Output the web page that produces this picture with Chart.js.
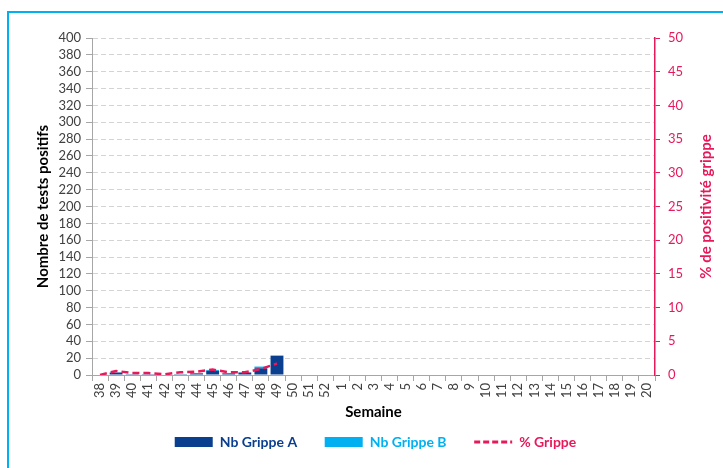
<!DOCTYPE html>
<html>
<head>
<meta charset="utf-8">
<script src="https://cdn.jsdelivr.net/npm/chart.js@4"></script>
<style>
  html, body { margin: 0; padding: 0; background: #fff; }
  #frame { position: absolute; left: 7px; top: 11px; width: 760px; height: 500px; border: 2px solid #00b0f0; }
  #wrap { position: absolute; left: 0; top: 0; width: 723px; height: 468px; }
</style>
</head>
<body>
<div id="frame"></div>
<div id="wrap"><canvas id="chart"></canvas></div>
<script>
// Semaines 38 -> 52 puis 1 -> 20
const semaines = ['38','39','40','41','42','43','44','45','46','47','48','49','50','51','52',
  '1','2','3','4','5','6','7','8','9','10','11','12','13','14','15','16','17','18','19','20'];
const grippeA = [0, 3, 1, 1, 0, 1, 2, 5, 2, 3, 8, 23];
const grippeB = [0, 0, 0, 0, 0, 0, 0, 1, 0, 0, 2, 0];
const pctGrippe = [0, 0.6, 0.3, 0.3, 0.1, 0.4, 0.5, 0.8, 0.4, 0.4, 0.9, 1.7];

const bleuA = '#0a3f8f';
const bleuB = '#00b0f0';
const rose = '#e6195a';
const police = 'Lato';

// titre de l'axe droit, lu de bas en haut comme dans Excel
const titreDroite = {
    id: 'titreDroite',
    afterDraw(chart) {
        const s = chart.scales.y1;
        const ctx = chart.ctx;
        ctx.save();
        ctx.translate(s.right - 17, (s.top + s.bottom) / 2);
        ctx.rotate(-Math.PI / 2);
        ctx.fillStyle = rose;
        ctx.font = 'bold 15px ' + police;
        ctx.textAlign = 'center';
        ctx.textBaseline = 'middle';
        ctx.fillText('% de positivité grippe', 0, 0);
        ctx.restore();
    }
};

new Chart(document.getElementById('chart'), {
    type: 'bar',
    data: {
        labels: semaines,
        datasets: [
            { label: 'Nb Grippe A', data: grippeA, backgroundColor: bleuA, yAxisID: 'y', stack: 'nb', order: 2,
              barPercentage: 0.8, categoryPercentage: 1 },
            { label: 'Nb Grippe B', data: grippeB, backgroundColor: bleuB, yAxisID: 'y', stack: 'nb', order: 2,
              barPercentage: 0.8, categoryPercentage: 1 },
            { type: 'line', label: '% Grippe', data: pctGrippe, borderColor: rose, borderWidth: 2.5,
              borderDash: [7, 4], pointRadius: 0, yAxisID: 'y1', order: 1, tension: 0 }
        ]
    },
    options: {
        responsive: true,
        maintainAspectRatio: false,
        animation: false,
        layout: { padding: { left: 28, top: 38, right: 0, bottom: 9 } },
        plugins: {
            tooltip: { enabled: false },
            legend: {
                position: 'bottom',
                labels: {
                    usePointStyle: true,
                    pointStyleWidth: 38,
                    boxHeight: 10,
                    padding: 14,
                    font: { family: police, size: 14, weight: 'bold' },
                    // espaces en fin de texte pour écarter les entrées comme dans l'original
                    generateLabels: (chart) => chart.data.datasets.map((ds, i) => ({
                        text: ds.type === 'line' ? ds.label : ds.label + '    ',
                        datasetIndex: i,
                        fillStyle: ds.type === 'line' ? 'rgba(0,0,0,0)' : ds.backgroundColor,
                        strokeStyle: ds.type === 'line' ? rose : ds.backgroundColor,
                        lineWidth: ds.type === 'line' ? 3 : 0,
                        lineDash: ds.type === 'line' ? [6, 3] : [],
                        pointStyle: ds.type === 'line' ? 'line' : 'rect',
                        fontColor: ds.type === 'line' ? rose : ds.backgroundColor
                    }))
                }
            }
        },
        scales: {
            x: {
                stacked: true,
                grid: { drawOnChartArea: false, drawTicks: true, tickLength: 6, color: '#a6a6a6', offset: true },
                border: { color: '#a6a6a6' },
                ticks: { minRotation: 90, maxRotation: 90, autoSkip: false, color: '#404040', padding: 2,
                    font: { family: police, size: 13 } },
                title: { display: true, text: 'Semaine', color: '#000', padding: { top: 4, bottom: 0 },
                    font: { family: police, size: 15, weight: 'bold' } },
                afterFit: (axis) => { axis.height = 46; }
            },
            y: {
                stacked: true,
                min: 0, max: 400,
                ticks: { stepSize: 20, autoSkip: false, color: '#404040', padding: 5, font: { family: police, size: 13 } },
                grid: { color: '#d4d4d4', tickColor: '#a6a6a6', tickLength: 6, tickBorderDash: [] },
                border: { color: '#a6a6a6', dash: [5, 3] },
                title: { display: true, text: 'Nombre de tests positifs', color: '#000', padding: { top: 6, bottom: 0 },
                    font: { family: police, size: 15, weight: 'bold' } },
                afterFit: (axis) => { axis.width = 64; }
            },
            y1: {
                position: 'right',
                min: 0, max: 50,
                ticks: { stepSize: 5, autoSkip: false, color: rose, padding: 8, font: { family: police, size: 13 } },
                grid: { drawOnChartArea: false, tickLength: 5, color: rose },
                border: { color: rose, width: 1.5 },
                afterFit: (axis) => { axis.width = 68; }
            }
        }
    },
    plugins: [titreDroite]
});
</script>
</body>
</html>
